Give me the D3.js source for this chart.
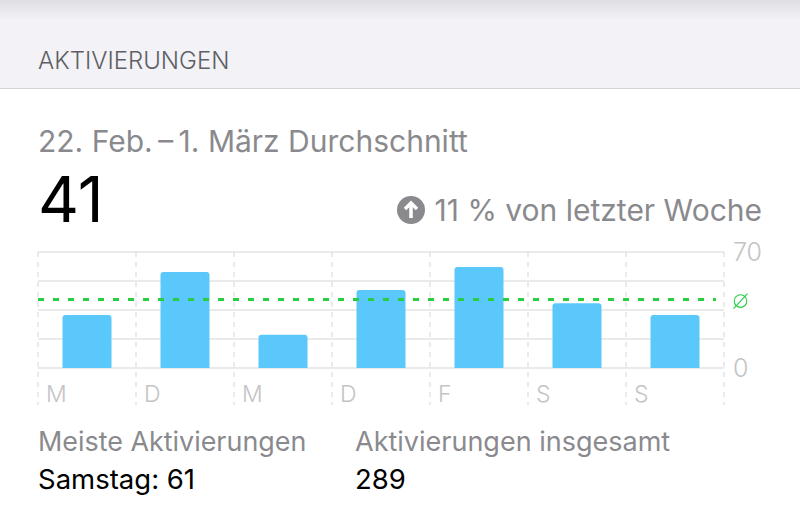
<!DOCTYPE html>
<html>
<head>
<meta charset="utf-8">
<script src="https://cdn.jsdelivr.net/npm/d3@7"></script>
<style>
html, body { margin: 0; padding: 0; background: #fff; }
svg { display: block; }
text { font-family: Inter, "Noto Sans", sans-serif; }
.grid line { stroke: #e3e3e5; stroke-width: 1.4; }
.days line { stroke: #d9d9dc; stroke-width: 1.1; stroke-dasharray: 5 5; }
.grey { fill: #8a8a8e; }
</style>
</head>
<body>
<svg id="chart" width="800" height="510"></svg>
<script>
let days = ["M", "D", "M", "D", "F", "S", "S"];
let activations = [32, 58, 20, 47, 61, 39, 32];
let average = 41;
let grid_values = [0, 17.5, 35, 52.5, 70];
let y_labels = [0, 70];

let svg = d3.select("#chart");

// Header background with the soft shadow at the top
let defs = svg.append("defs");
let shade = defs.append("linearGradient")
	.attr("id", "shade")
	.attr("x1", 0).attr("x2", 0).attr("y1", 0).attr("y2", 1);
shade.append("stop").attr("offset", 0).attr("stop-color", "#dfdfe3");
shade.append("stop").attr("offset", 1).attr("stop-color", "#f2f2f7");

svg.append("rect").attr("width", 800).attr("height", 88).attr("fill", "#f2f2f7");
svg.append("rect").attr("width", 800).attr("height", 20).attr("fill", "url(#shade)");
svg.append("line")
	.attr("x1", 0).attr("x2", 800).attr("y1", 88.5).attr("y2", 88.5)
	.attr("stroke", "#d4d4d7").attr("stroke-width", 1);

svg.append("text").attr("x", 38).attr("y", 69)
	.attr("font-size", 24).attr("font-weight", 300).attr("fill", "#5f5f64").text("AKTIVIERUNGEN");
svg.append("text").attr("class", "grey").attr("x", 38).attr("y", 152)
	.attr("font-size", 30).attr("font-weight", 400).text("22. Feb.\u2009–\u20091. März Durchschnitt");
svg.append("text").attr("x", 38).attr("y", 222)
	.attr("font-size", 63.5).attr("font-weight", 400).attr("fill", "#000").text(average);

// Change from last week
let up = svg.append("g").attr("transform", "translate(411,210)");
up.append("circle").attr("r", 14).attr("fill", "#8a8a8e");
up.append("path")
	.attr("d", d3.line()([[0, 8], [0, -7]]) + d3.line()([[-6, -1], [0, -7], [6, -1]]))
	.attr("fill", "none").attr("stroke", "#fff").attr("stroke-width", 3.5);
svg.append("text").attr("class", "grey").attr("x", 762).attr("y", 221)
	.attr("text-anchor", "end").attr("font-size", 30).attr("font-weight", 400)
	.text("11 % von letzter Woche");

// Scales
let x = d3.scaleBand().domain(d3.range(days.length)).range([38, 724]);
let y = d3.scaleLinear().domain([0, 70]).range([368, 252]);
let bar_width = x.bandwidth() / 2;

// Horizontal grid
svg.append("g").attr("class", "grid")
	.selectAll("line").data(grid_values).enter().append("line")
	.attr("x1", 38).attr("x2", 724)
	.attr("y1", d => y(d)).attr("y2", d => y(d));

// Dashed day separators
svg.append("g").attr("class", "days")
	.selectAll("line").data(d3.range(days.length + 1)).enter().append("line")
	.attr("x1", d => 38 + d * x.step()).attr("x2", d => 38 + d * x.step())
	.attr("y1", 252).attr("y2", 405);

// Bars with rounded top corners
svg.append("g").selectAll("path").data(activations).enter().append("path")
	.attr("fill", "#5ac8fa")
	.attr("d", (d, i) => {
		let left = x(i) + x.bandwidth() / 2 - bar_width / 2;
		let r = 3;
		let p = d3.path();
		p.moveTo(left, y(0));
		p.lineTo(left, y(d) + r);
		p.arcTo(left, y(d), left + r, y(d), r);
		p.lineTo(left + bar_width - r, y(d));
		p.arcTo(left + bar_width, y(d), left + bar_width, y(d) + r, r);
		p.lineTo(left + bar_width, y(0));
		p.closePath();
		return p.toString();
	});

// Average line
svg.append("line")
	.attr("x1", 38).attr("x2", 716)
	.attr("y1", y(average) - 0.5).attr("y2", y(average) - 0.5)
	.attr("stroke", "#28cd41").attr("stroke-width", 3).attr("stroke-dasharray", 6 + " " + 9);

let avg_mark = svg.append("g").attr("transform", "translate(740.5," + (y(average) + 1) + ")")
	.attr("fill", "none").attr("stroke", "#28cd41").attr("stroke-width", 1.1);
avg_mark.append("circle").attr("r", 6.3);
avg_mark.append("line").attr("x1", -7).attr("y1", 7.5).attr("x2", 7).attr("y2", -7.5);

// Day labels
svg.append("g").selectAll("text").data(days).enter().append("text")
	.attr("x", (d, i) => x(i) + 8)
	.attr("y", 402)
	.attr("font-size", 23).attr("font-weight", 300).attr("fill", "#c4c4c6")
	.text(d => d);

// Value axis labels
svg.append("g").selectAll("text").data(y_labels).enter().append("text")
	.attr("x", 733)
	.attr("y", d => y(d) + 9)
	.attr("font-size", 25).attr("font-weight", 300).attr("fill", "#c4c4c6")
	.text(d => d);

// Footer figures
svg.append("text").attr("class", "grey").attr("x", 38).attr("y", 451)
	.attr("font-size", 26.9).attr("font-weight", 400).text("Meiste Aktivierungen");
svg.append("text").attr("x", 38).attr("y", 489)
	.attr("font-size", 27.5).attr("fill", "#000").text("Samstag: 61");
svg.append("text").attr("class", "grey").attr("x", 355).attr("y", 451)
	.attr("font-size", 27).attr("font-weight", 400).text("Aktivierungen insgesamt");
svg.append("text").attr("x", 355).attr("y", 489)
	.attr("font-size", 27.5).attr("fill", "#000").text(d3.sum(activations));
</script>
</body>
</html>
